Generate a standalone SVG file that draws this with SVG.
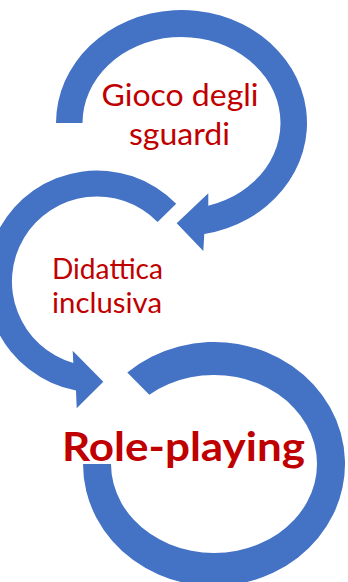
<svg xmlns="http://www.w3.org/2000/svg" width="348" height="582" viewBox="0 0 348 582">
  <style>
    .ring { fill: #4472C4; stroke: none; }
    .lbl { font-family: Lato, "Liberation Sans", sans-serif; fill: #C00000; text-anchor: middle; }
    .big { font-weight: bold; }
  </style>
  <rect width="348" height="582" fill="#FFFFFF"/>
  <g id="node-gioco">
    <path class="ring" d="M 56,123 A 125.5 113 0 1 1 204.3,234.1 L 203.3,251 L 176.7,223.3 L 208.3,193.3 L 208.3,205.8 A 99 86 0 1 0 82.5,123 Z"/>
    <text class="lbl" x="180" y="106" font-size="30" textLength="157" lengthAdjust="spacingAndGlyphs">Gioco degli</text>
    <text class="lbl" x="179.5" y="145" font-size="30" textLength="101" lengthAdjust="spacingAndGlyphs">sguardi</text>
  </g>
  <g id="node-didattica">
    <path class="ring" d="M 176.2,203.7 A 111 111 0 1 0 76,390.5 L 76.7,408.3 L 103.3,381.7 L 72.7,350.7 L 73.3,363.1 A 85 85 0 1 1 157.6,221.9 Z"/>
    <text class="lbl" x="107.5" y="279.3" font-size="29" textLength="111" lengthAdjust="spacingAndGlyphs">Didattica</text>
    <text class="lbl" x="107" y="313.3" font-size="29" textLength="110" lengthAdjust="spacingAndGlyphs">inclusiva</text>
  </g>
  <g id="node-roleplaying">
    <path class="ring" d="M 83,464 A 131 122 0 1 0 127.3,372.5 L 149.3,394.7 A 103 89 0 1 1 111,464 Z"/>
    <text class="lbl big" x="183.5" y="461" font-size="40" textLength="243" lengthAdjust="spacingAndGlyphs">Role-playing</text>
  </g>
  <g id="connectors"></g>
</svg>
